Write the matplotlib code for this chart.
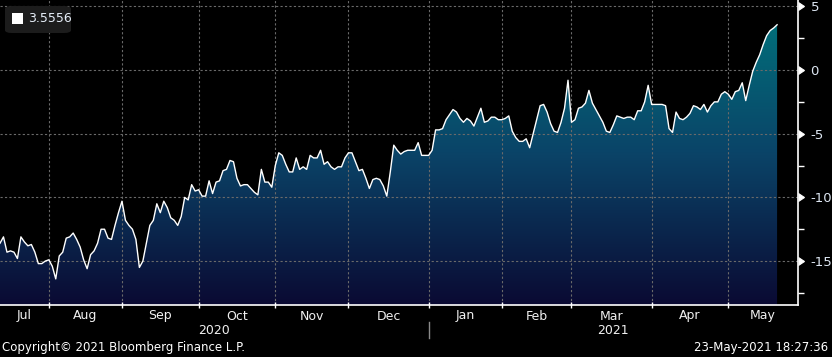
import numpy as np
import pandas as pd
import matplotlib
matplotlib.use("Agg")
import matplotlib.pyplot as plt
import matplotlib.transforms as mtransforms
from matplotlib.colors import LinearSegmentedColormap
from matplotlib.patches import FancyBboxPatch
from matplotlib.lines import Line2D

# trading days shown on the chart
dates = pd.bdate_range("2020-07-14", "2021-05-21")

# values, one per trading day
values = [
    -13.6, -13.1, -14.3, -14.2, -14.3, -14.8, -13.1, -13.5, -13.8, -13.7,
    -14.3, -15.2, -15.2, -15.0, -14.9, -15.4, -16.4, -14.6, -14.3, -13.2,
    -13.1, -12.8, -13.3, -13.9, -14.9, -15.6, -14.5, -14.2, -13.6, -12.5,
    -12.5, -13.2, -13.3, -12.2, -11.2, -10.3, -11.8, -12.2, -12.5, -13.3,
    -15.5, -15.0, -13.6, -12.2, -11.8, -10.5, -11.2, -10.3, -10.8, -11.6,
    -11.8, -12.2, -11.5, -10.0, -10.2, -9.0, -9.5, -9.4, -9.9, -9.9,
    -8.7, -9.7, -8.8, -8.7, -7.9, -7.8, -7.1, -7.2, -8.5, -9.1,
    -9.0, -9.0, -9.3, -9.6, -9.8, -7.8, -8.8, -8.8, -9.2, -7.5,
    -6.5, -6.7, -7.4, -8.0, -8.0, -6.9, -7.8, -7.6, -7.8, -6.7,
    -6.9, -6.9, -6.3, -7.4, -7.2, -7.6, -7.8, -7.6, -7.6, -6.9,
    -6.5, -6.5, -7.2, -7.9, -7.8, -8.5, -9.3, -8.6, -8.5, -8.6,
    -9.1, -9.9, -8.0, -5.9, -6.3, -6.6, -6.4, -6.3, -6.3, -6.3,
    -5.7, -6.7, -6.7, -6.7, -6.3, -4.7, -4.7, -4.6, -3.9, -3.5,
    -3.1, -3.3, -3.8, -4.1, -3.8, -4.0, -4.4, -3.7, -3.0, -4.1,
    -4.0, -3.7, -3.7, -3.9, -3.9, -3.8, -3.6, -4.8, -5.3, -5.6,
    -5.6, -5.4, -6.1, -5.0, -3.9, -2.8, -2.7, -3.3, -4.2, -4.8,
    -4.9, -4.1, -3.0, -0.8, -4.1, -3.9, -3.0, -2.9, -2.6, -1.6,
    -2.6, -3.1, -3.6, -4.1, -4.8, -4.9, -4.3, -3.6, -3.7, -3.8,
    -3.7, -3.7, -3.9, -3.2, -3.2, -2.5, -1.2, -2.7, -2.7, -2.7,
    -2.7, -2.8, -4.6, -4.9, -3.3, -3.8, -3.9, -3.7, -3.4, -2.8,
    -2.9, -3.1, -2.7, -3.3, -2.8, -2.5, -2.5, -1.9, -1.7, -1.9,
    -2.3, -1.7, -1.6, -1.0, -2.4, -1.2, -0.1, 0.6, 1.2, 2.0,
    2.7, 3.1, 3.3, 3.5556,
]
last_label = "3.5556"
y_ticks = [5, 0, -5, -10, -15]
copyright_text = "Copyright\u00a9 2021 Bloomberg Finance L.P."
stamp_text = "23-May-2021 18:27:36"

W, H = 832, 357
fig = plt.figure(figsize=(W / 100, H / 100), dpi=100, facecolor="black")
ax = fig.add_axes([0, 52 / H, 798 / W, 305 / H])
ax.set_facecolor("black")

x = np.arange(len(values))
x_right = len(values) - 1 + 6
y_lo, y_hi = -18.45, 5.5
ax.set_xlim(0, x_right)
ax.set_ylim(y_lo, y_hi)

# gradient area under the line
cmap = LinearSegmentedColormap.from_list(
    "bbg", [(0.0, "#0b0a33"), (0.5, "#0a4468"), (1.0, "#00757d")])
grad = np.linspace(0, 1, 256).reshape(-1, 1)
im = ax.imshow(grad, cmap=cmap, origin="lower", aspect="auto",
               extent=[0, x_right, y_lo, y_hi], zorder=1)
poly = ax.fill_between(x, values, y_lo, facecolor="none", edgecolor="none")
im.set_clip_path(poly.get_paths()[0], transform=ax.transData)
ax.plot(x, values, color="white", lw=1.0, zorder=3)

# month boundaries
months = dates.month
bounds = [i for i in range(1, len(dates)) if months[i] != months[i - 1]]
ax.set_xticks(bounds)
ax.set_xticklabels([])
ax.set_yticks(y_ticks)
ax.set_yticks(np.arange(-17.5, 5, 5), minor=True)
ax.grid(True, which="major", color="#6a6a6a", ls=(0, (2, 2)), lw=0.8, zorder=2)

for s in ["top", "left"]:
    ax.spines[s].set_visible(False)
ax.spines["right"].set_color("white")
ax.spines["bottom"].set_color("white")
ax.spines["right"].set_linewidth(1.2)
ax.spines["bottom"].set_linewidth(1.2)

ax.tick_params(axis="x", which="major", direction="inout", length=5,
               color="white", width=1)
ax.yaxis.tick_right()
ax.tick_params(axis="y", which="major", length=0, pad=9,
               labelcolor="#dde6f2", labelsize=9.5)
ax.tick_params(axis="y", which="minor", length=4, color="white", width=1)
for t in ax.yaxis.get_major_ticks():
    t.tick2line.set_marker(9)
    t.tick2line.set_markersize(6)
    t.tick2line.set_color("white")
    t.tick2line.set_markeredgecolor("white")
    t.tick2line.set_markerfacecolor("white")
ax.set_yticklabels([str(v) for v in y_ticks])

# month and year labels
trans = mtransforms.blended_transform_factory(ax.transData, fig.transFigure)
edges = [0] + bounds + [x_right]
for a, b in zip(edges[:-1], edges[1:]):
    name = dates[a].strftime("%b")
    ax.text((a + b) / 2, 1 - 316 / H, name, transform=trans, ha="center",
            va="center", color="#f0f0f0", fontsize=9, clip_on=False)

year_split = [i for i in bounds if dates[i].month == 1][0]
for a, b in [(0, year_split), (year_split, x_right)]:
    ax.text((a + b) / 2, 1 - 331 / H, str(dates[a].year), transform=trans,
            ha="center", va="center", color="#f0f0f0", fontsize=9,
            clip_on=False)
fig.add_artist(Line2D([year_split, year_split], [1 - 322 / H, 1 - 338 / H],
                      transform=trans, color="#8a8a8a", lw=1))

fig.text(2 / W, 1 - 348 / H, copyright_text, ha="left", va="center",
         color="white", fontsize=8.5)
fig.text(828 / W, 1 - 348 / H, stamp_text, ha="right", va="center",
         color="white", fontsize=8.5)

# last value box
fig.add_artist(FancyBboxPatch((5 / W, 1 - 33 / H), 66 / W, 27 / H,
                              boxstyle="round,pad=0,rounding_size=0.008",
                              transform=fig.transFigure, facecolor="#1c1c1c",
                              edgecolor="none"))
fig.add_artist(plt.Rectangle((12 / W, 1 - 24 / H), 11 / W, 11 / H,
                             transform=fig.transFigure, facecolor="white"))
fig.text(28 / W, 1 - 19 / H, last_label, ha="left", va="center",
         color="#e6eef8", fontsize=9)

fig.savefig("out.png", dpi=100, facecolor="black")
